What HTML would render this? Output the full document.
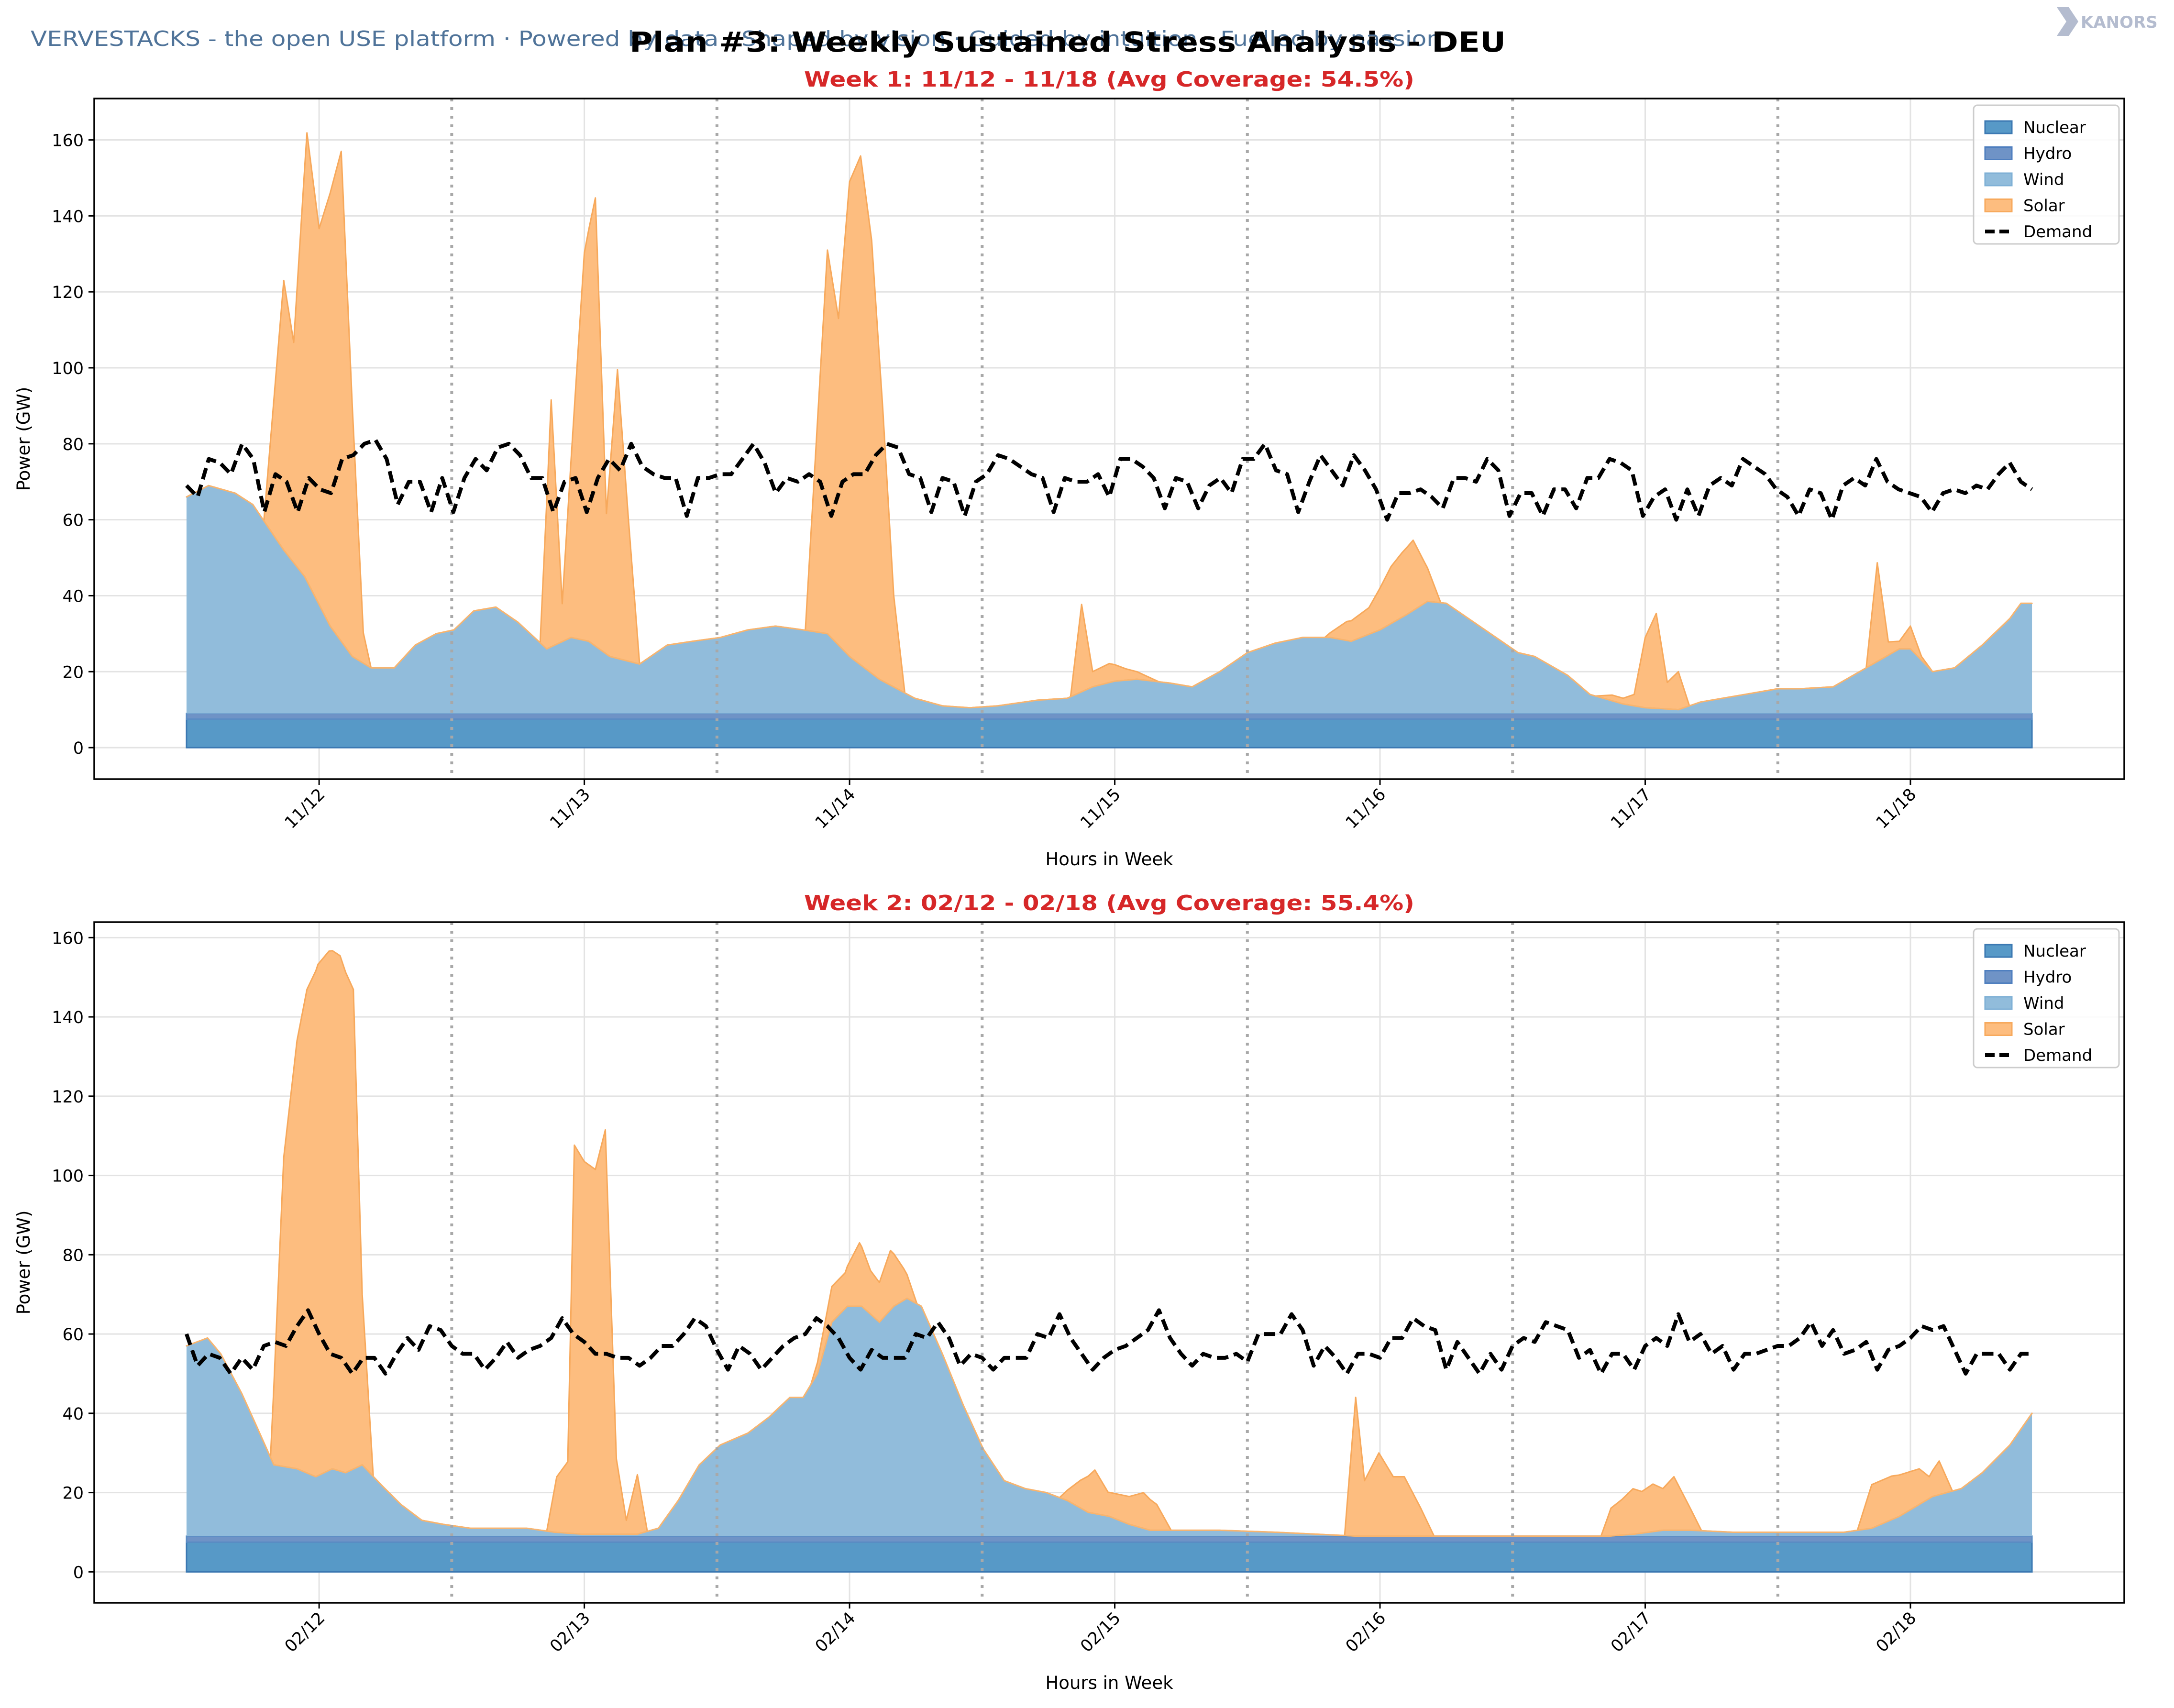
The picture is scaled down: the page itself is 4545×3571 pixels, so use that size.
<!DOCTYPE html>
<html><head><meta charset="utf-8">
<style>
html,body{margin:0;padding:0;background:#fff;}
svg{display:block;font-family:"DejaVu Sans","Liberation Sans",sans-serif;}
</style></head>
<body>
<svg id="chart" width="4545" height="3571" viewBox="0 0 4545 3571" xmlns="http://www.w3.org/2000/svg">
<rect x="0" y="0" width="4545" height="3571" fill="#ffffff"/>
<text x="64" y="96" font-size="44" fill="#4f7399" textLength="2950" lengthAdjust="spacingAndGlyphs">VERVESTACKS - the open USE platform · Powered by data · Shaped by vision · Guided by intuition · Fuelled by passion</text>
<text x="2232" y="108" font-size="58" font-weight="bold" text-anchor="middle" fill="#000" textLength="1832" lengthAdjust="spacingAndGlyphs">Plan #3: Weekly Sustained Stress Analysis - DEU</text>
<g>
<path d="M4300 15 L4325 15 L4345 45 L4325 75 L4300 75 L4320 45 Z" fill="#b4bccf"/>
<text x="4350" y="58" font-size="34" font-weight="bold" fill="#b4bccf">KANORS</text>
</g>
<g id="w1"></g>
<g id="w2"></g>
</svg>
<script>
// ---------- Week 1 data ----------
const w1DayLabels = ["11/12","11/13","11/14","11/15","11/16","11/17","11/18"];
const w1Nuclear = 7.5;
const w1Hydro = 1.5;
const w1WindHours = [0,2,4.4,6,8.8,10.7,13,15,16.7,18.8,20.7,22.6,24.2,26,28,30,32.6,34.8,36.4,38.3,41,43.5,45.8,48.3,50.8,53.3,55.8,58,60,62.7,65.9,68.4,70.9,73.4,77,79.7,82,84,86,89,91,93.5,96,98.5,101,103.5,105.4,108,110.4,112.3,114,116,118,120.5,122,125,127,130,132,135,137,141,144,146,149,152,155,156,158,160,162.5,165,166,167];
const w1WindVals = [57,60,58,55,43,36,23,15,12,12,18,21,22,27,28,24,17,20,19,15,13,18,19,20,22,23,22,21,15,9,4,2,1.5,2,3.5,4,7,8.5,9,8,7,11,16,18.5,20,20,19,22,26,29.5,29,25,21,16,15,10,5,2.5,1.5,1,3,5,6.5,6.5,7,12,17,17,11,12,18,25,29,29];
const w1SolarHours = [7,8.8,9.7,10.9,12,14,15,16,16.7, 32,33,34,36,37,38,39,40,41, 56,58,59,60,61,62,63,64,65, 80,81,82,83.5,85,87,88, 103,105,107,109,110,111,112,113.5, 127.5,129,130,131,132,133,134,135,136, 152,153,154,155,156,157,158];
const w1SolarVals = [0,71,58,118,99,129,66,8,0, 0,65,10,102,118,37,76,37,0, 0,101,86,125,134,114,72,24,0, 0,23,4,5,3,1,0, 0,5,7,15,17,18.5,11,0, 0,1.5,1.5,3,18.5,25,7,10,0, 0,26,3.5,2,6,1,0];
const w1Demand = [69,66,76,75,72,80,76,62,72,70,62,71,68,67,76,77,80,81,76,64,70,70,62,71,62,71,76,73,79,80,77,71,71,62,70,71,62,71,76,73,80,74,72,71,71,61,71,71,72,72,76,80,75,67,71,70,72,70,61,70,72,72,77,80,79,72,71,62,71,70,61,70,72,77,76,74,72,71,62,71,70,70,72,66,76,76,74,71,63,71,70,63,69,71,67,76,76,80,73,72,62,70,77,73,69,77,73,68,60,67,67,68,66,63,71,71,70,76,73,61,67,67,61,68,68,63,71,71,76,75,73,61,66,68,60,68,61,69,71,69,76,74,72,68,66,61,68,67,60,69,71,69,76,70,68,67,66,62,67,68,67,69,68,72,75,70,68];

// ---------- Week 2 data ----------
const w2DayLabels = ["02/12","02/13","02/14","02/15","02/16","02/17","02/18"];
const w2Nuclear = 7.5;
const w2Hydro = 1.5;
const w2WindHours = [0,1.9,3.1,5,6.3,7.9,10,11.7,13.2,14.4,15.9,17.6,19.4,21.3,23.2,25.7,28.2,30.8,33.3,35.8,40.8,42.7,44.5,46.4,48.3,50.8,52.7,54.6,55.8,57.1,58.4,59.8,61.1,62.7,64,65.2,66.5,68.4,70.3,72.1,74,75.9,77.8,79.7,81.6,83.5,85.3,87.2,93.5,98.5,102.3,106,128.6,131,133.6,136.1,139.9,150,152.5,155,158,160.6,162.5,165,167];
const w2WindVals = [48,50,46,36,28,18,17,15,17,16,18,13,8,4,3,2,2,2,1,0.5,0.5,2,9,18,23,26,30,35,35,41,54,58,58,54,58,60,58,46,33,22,14,12,11,9,6,5,3,1.5,1.5,1,0.5,0,0,0.5,1.5,1.5,1,1,2,5,10,12,16,23,31];
const w2SolarHours = [7.6,8.8,10,10.9,11.9,12.9,13.9,15.1,15.9,16.9, 32.6,33.5,34.5,35.1,36,37,37.9,38.9,39.8,40.8,41.7, 56.5,58.4,59.6,60.9,61.9,62.7,63.7,64.9,66.1, 79,80.9,82.2,83.4,85.3,86.6,87.8,89.1, 104.8,105.8,106.6,107.9,109.2,110.2,111.7,112.9, 128,128.9,129.9,130.9,131.7,132.7,133.6,134.6,135.9,137.1, 151.2,152.5,154.3,156.8,157.7,158.6,159.8];
const w2SolarVals = [0,78,108,122,129,131,130,121,43,0, 0,14,18,98,94,92,102,19,3.5,15,0, 0,9,9,16,11,10,15,8,0, 0,7,11,6,7,9,6.5,0, 0,35,14,21,15,15,7,0, 0,7,9,11.5,10.5,12,10.5,13.5,6.5,0, 0,11,11,9,5.5,8.5,0];
const w2Demand = [60,52,55,54,50,54,51,57,58,57,62,66,60,55,54,50,54,54,50,55,59,56,62,61,57,55,55,51,54,58,54,56,57,59,64,60,58,55,55,54,54,52,54,57,57,60,64,62,56,51,57,55,51,54,57,59,60,64,62,59,54,51,56,54,54,54,60,59,63,59,52,55,54,51,54,54,54,60,59,65,59,55,51,54,56,57,59,61,66,59,55,52,55,54,54,55,53,60,60,60,65,61,52,57,54,50,55,55,54,59,59,64,62,61,51,58,54,50,55,51,57,59,58,63,62,61,54,56,50,55,55,51,57,59,57,65,58,60,55,57,51,55,55,56,57,57,59,63,57,61,55,56,58,51,56,57,59,62,61,62,56,50,55,55,55,51,55,55];

const NS = "http://www.w3.org/2000/svg";
function mk(parent, tag, attrs){ const e=document.createElementNS(NS,tag); for(const k in attrs) e.setAttribute(k,attrs[k]); parent.appendChild(e); return e; }
function interp(hs, vs, h){
  if(h<=hs[0]) return vs[0];
  if(h>=hs[hs.length-1]) return vs[vs.length-1];
  for(let i=1;i<hs.length;i++){ if(h<=hs[i]){ const t=(h-hs[i-1])/(hs[i]-hs[i-1]); return vs[i-1]+t*(vs[i]-vs[i-1]); } }
  return 0;
}
function solarAt(hs, vs, h){
  for(let i=1;i<hs.length;i++){
    if(h>=hs[i-1] && h<=hs[i] && hs[i]>hs[i-1]){ const t=(h-hs[i-1])/(hs[i]-hs[i-1]); return vs[i-1]+t*(vs[i]-vs[i-1]); }
  }
  return 0;
}

function drawChart(g, cfg){
  const L=197, R=4441, T=cfg.top, B=cfg.bottom;
  const xMin=-8.35, xMax=175.35;
  const X = h => L + (h - xMin)/(xMax - xMin)*(R-L);
  const Y = v => B - (v - cfg.yMin)/(cfg.yMax - cfg.yMin)*(B-T);
  for(let v=0; v<=160; v+=20){
    const gl=mk(g,"line",{x1:L,x2:R,y1:Y(v),y2:Y(v),stroke:"#e3e3e3","stroke-width":3});
    
    
  }
  for(let d=0; d<7; d++){
    const h=12+24*d;
    const gl=mk(g,"line",{x1:X(h),x2:X(h),y1:T,y2:B,stroke:"#e3e3e3","stroke-width":3});
    
    
  }
  const hours = Array.from(new Set(cfg.windH.concat(cfg.solarH))).sort((a,b)=>a-b);
  const base = cfg.nuclear + cfg.hydro;
  const windTop = hours.map(h => base + interp(cfg.windH, cfg.windV, h));
  const solarTop = hours.map((h,i) => windTop[i] + solarAt(cfg.solarH, cfg.solarV, h));
  const h0=0, h1=167;
  const nuc = mk(g,"path",{d:`M${X(h0)},${Y(0)} L${X(h0)},${Y(cfg.nuclear)} L${X(h1)},${Y(cfg.nuclear)} L${X(h1)},${Y(0)} Z`,fill:"#5799c7",stroke:"#3b78b2","stroke-width":3});
  
  
  const hyd = mk(g,"path",{d:`M${X(h0)},${Y(cfg.nuclear)} L${X(h0)},${Y(base)} L${X(h1)},${Y(base)} L${X(h1)},${Y(cfg.nuclear)} Z`,fill:"#6f93c6",stroke:"#5b8cc4","stroke-width":3});
  
  
  let solD = "M"+hours.map((h,i)=>`${X(h)},${Y(solarTop[i])}`).join(" L");
  for(let i=hours.length-1;i>=0;i--) solD += ` L${X(hours[i])},${Y(windTop[i])}`;
  const sol = mk(g,"path",{d:solD+" Z",fill:"#fdbd7f",stroke:"#f7a95c","stroke-width":3,"stroke-linejoin":"round"});
  
  
  let wD = `M${X(hours[0])},${Y(base)} L`+hours.map((h,i)=>`${X(h)},${Y(windTop[i])}`).join(" L")+` L${X(hours[hours.length-1])},${Y(base)} Z`;
  const wnd = mk(g,"path",{d:wD,fill:"#91bcdb",stroke:"none"});
  
  
  const wEdge = mk(g,"path",{d:"M"+hours.map((h,i)=>`${X(h)},${Y(windTop[i])}`).join(" L"),fill:"none",stroke:"#f7b46f","stroke-width":3});
  
  
  for(let d=1; d<7; d++){
    const sl=mk(g,"line",{x1:X(24*d),x2:X(24*d),y1:T,y2:B,stroke:"#a8a8a8","stroke-width":6,"stroke-dasharray":"6 12"});
    
    
  }
  const n=cfg.demand.length;
  const dd="M"+cfg.demand.map((v,i)=>`${X(i*167/(n-1))},${Y(v)}`).join(" L");
  const dem=mk(g,"path",{d:dd,fill:"none",stroke:"#000","stroke-width":8,"stroke-dasharray":"24 12","stroke-linejoin":"round"});
  
  
  const fr=mk(g,"rect",{x:L,y:T,width:R-L,height:B-T,fill:"none",stroke:"#000","stroke-width":3.5});
  
  
  for(let v=0; v<=160; v+=20){
    const tk=mk(g,"line",{x1:L-12,x2:L,y1:Y(v),y2:Y(v),stroke:"#000","stroke-width":3});
    
    
    const tl=mk(g,"text",{x:L-22,y:Y(v)+13,"font-size":35,"text-anchor":"end",fill:"#000"});
    tl.textContent=String(v);
    
    
  }
  cfg.dayLabels.forEach((lab,d)=>{
    const x=X(12+24*d);
    const tk=mk(g,"line",{x1:x,x2:x,y1:B,y2:B+12,stroke:"#000","stroke-width":3});
    
    
    const tl=mk(g,"text",{x:x+14,y:B+34,"font-size":35,"text-anchor":"end",fill:"#000",transform:`rotate(-45 ${x+14} ${B+34})`});
    tl.textContent=lab;
    
    
  });
  const yl=mk(g,"text",{x:0,y:0,"font-size":37,"text-anchor":"middle",fill:"#000",transform:`translate(62 ${(T+B)/2}) rotate(-90)`});
  yl.textContent="Power (GW)";
  
  
  const xl=mk(g,"text",{x:(L+R)/2,y:B+180,"font-size":37,"text-anchor":"middle",fill:"#000"});
  xl.textContent="Hours in Week";
  
  
  const st=mk(g,"text",{x:(L+R)/2,y:T-25,"font-size":44,"font-weight":"bold","text-anchor":"middle",fill:"#d62728",textLength:1276,lengthAdjust:"spacingAndGlyphs"});
  st.textContent=cfg.subtitle;
  
  
  const lg=mk(g,"g",{});
  
  
  const lx=4126, ly=T+14;
  mk(lg,"rect",{x:lx,y:ly,width:304,height:290,rx:8,fill:"#fff","fill-opacity":0.85,stroke:"#cccccc","stroke-width":3});
  const items=[["Nuclear","#5799c7","#3b78b2"],["Hydro","#6f93c6","#4f7fbf"],["Wind","#91bcdb","#7fb0d6"],["Solar","#fdbd7f","#f7a95c"],["Demand",null,null]];
  items.forEach((it,i)=>{
    const cy=ly+46+i*54.5;
    const e=mk(lg,"g",{});
    
    
    if(it[1]) mk(e,"rect",{x:lx+24,y:cy-13,width:56,height:26,fill:it[1],stroke:it[2],"stroke-width":3});
    else mk(e,"line",{x1:lx+24,x2:lx+80,y1:cy,y2:cy,stroke:"#000","stroke-width":8,"stroke-dasharray":"20 10"});
    const t=mk(e,"text",{x:lx+104,y:cy+12,"font-size":34,fill:"#000"});
    t.textContent=it[0];
  });
}

drawChart(document.getElementById("w1"),{top:206,bottom:1629,yMin:-8.3,yMax:170.9,
  windH:w1WindHours,windV:w1WindVals,solarH:w1SolarHours,solarV:w1SolarVals,demand:w1Demand,
  nuclear:w1Nuclear,hydro:w1Hydro,dayLabels:w1DayLabels,subtitle:"Week 1: 11/12 - 11/18 (Avg Coverage: 54.5%)"});
drawChart(document.getElementById("w2"),{top:1928,bottom:3351,yMin:-7.8,yMax:163.9,
  windH:w2WindHours,windV:w2WindVals,solarH:w2SolarHours,solarV:w2SolarVals,demand:w2Demand,
  nuclear:w2Nuclear,hydro:w2Hydro,dayLabels:w2DayLabels,subtitle:"Week 2: 02/12 - 02/18 (Avg Coverage: 55.4%)"});
</script>
</body></html>
